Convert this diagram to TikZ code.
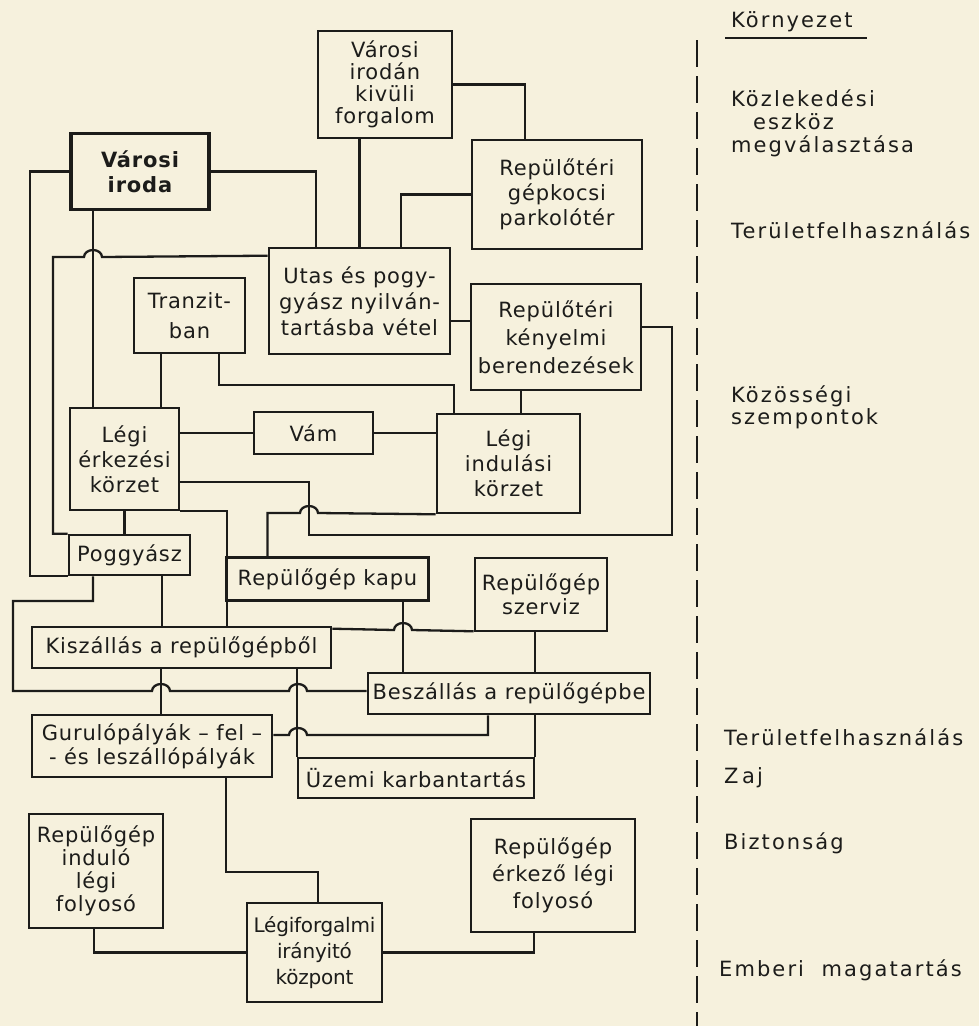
\documentclass[tikz,border=0pt]{standalone}
\usepackage{fontspec}
\setmainfont{DejaVu Sans}[LetterSpace=4]
\newfontfamily\envfont{DejaVu Sans}[LetterSpace=10]
\usepackage{xcolor}
\usetikzlibrary{positioning}
\definecolor{paper}{RGB}{246,241,221}
\definecolor{ink}{RGB}{28,28,26}

\begin{document}
\begin{tikzpicture}[x=1pt, y=-1pt, line width=2.3pt, draw=ink, text=ink,
  box/.style={draw, line width=2.6pt, rectangle, align=center, inner sep=1pt,
    font=\fontsize{21}{24}\selectfont},
  env/.style={anchor=west, inner sep=0pt, align=left,
    font=\envfont\fontsize{21}{23}\selectfont}]
  \fill[paper] (0,0) rectangle (979,1026);
  \useasboundingbox (0,0) rectangle (979,1026);

  % Boxes, top part
  \node[box, minimum width=134, minimum height=107, font=\fontsize{21}{22}\selectfont] (kivuli) at (385,84.5) {Városi\\irodán\\kivüli\\forgalom};
  \node[box, line width=3.4pt, minimum width=138, minimum height=76, font=\bfseries\fontsize{21}{25}\selectfont] (iroda) at (140,171.5) {Városi\\iroda};
  \node[box, minimum width=170, minimum height=109, font=\fontsize{21}{25}\selectfont] (parkolo) at (557,194.5) {Repülőtéri\\gépkocsi\\parkolótér};
  \node[box, minimum width=181, minimum height=106, font=\fontsize{21}{26}\selectfont] (utas) at (359.5,301) {Utas és pogy-\\gyász nyilván-\\tartásba vétel};
  \node[box, minimum width=111, minimum height=75, font=\fontsize{21}{30}\selectfont] (tranzit) at (189.5,315.5) {Tranzit-\\ban};
  \node[box, minimum width=170, minimum height=106, font=\fontsize{21}{28}\selectfont] (kenyelmi) at (556,337) {Repülőtéri\\kényelmi\\berendezések};

  % Boxes, middle part
  \node[box, minimum width=109, minimum height=102, font=\fontsize{21}{25}\selectfont] (erkezes) at (124.5,459) {Légi\\érkezési\\körzet};
  \node[box, minimum width=119, minimum height=42] (vam) at (313.5,433) {Vám};
  \node[box, minimum width=143, minimum height=99, font=\fontsize{21}{25}\selectfont] (indulas) at (508.5,463.5) {Légi\\indulási\\körzet};
  \node[box, minimum width=121, minimum height=40] (poggyasz) at (129.5,555) {Poggyász};
  \node[box, minimum width=202, minimum height=43] (kapu) at (327.5,579) {Repülőgép kapu};
  \node[box, minimum width=132, minimum height=73] (szerviz) at (541,594.5) {Repülőgép\\szerviz};
  \node[box, minimum width=299, minimum height=41] (kiszallas) at (181.5,647.5) {Kiszállás a repülőgépből};
  \node[box, minimum width=282, minimum height=41] (beszallas) at (509,693.5) {Beszállás a repülőgépbe};
  \node[box, minimum width=240, minimum height=62] (gurulo) at (152,746) {Gurulópályák – fel –\\- és leszállópályák};
  \node[box, minimum width=236, minimum height=40] (karbantartas) at (416,778) {Üzemi karbantartás};

  % Boxes, bottom part
  \node[box, minimum width=134, minimum height=114, font=\fontsize{21}{23}\selectfont] (indulofoly) at (96,871) {Repülőgép\\induló\\légi\\folyosó};
  \node[box, minimum width=164, minimum height=113, font=\fontsize{21}{27}\selectfont] (erkezofoly) at (553,875.5) {Repülőgép\\érkező légi\\folyosó};
  \node[box, minimum width=135, minimum height=99, font=\addfontfeature{LetterSpace=-1}\fontsize{20}{26}\selectfont] (iranyito) at (314.5,952.5) {Légiforgalmi\\irányitó\\központ};

  % Connections, top part
  \draw (kivuli.east) -| ([xshift=-32]parkolo.north);
  \draw (utas.north) -- (utas.north |- kivuli.south);
  \draw (iroda.east) -| ([xshift=-43.5]utas.north);
  \draw (parkolo.west) -| ([xshift=41.5]utas.north);
  \draw (iroda.west) -| ([xshift=-38]poggyasz.south west) -- (poggyasz.south west);
  \draw ([xshift=-47]iroda.south) -- ([xshift=-31.5]erkezes.north);
  \draw ([yshift=-9]utas.north west) -- (102,257) arc[start angle=0, end angle=-180, x radius=9, y radius=7] -- (53,257) |- (poggyasz.north west);
  \draw ([xshift=-28.5]tranzit.south) -- ([xshift=36.5]erkezes.north);
  \draw ([xshift=29.5]tranzit.south) |- (454,385) -- ([xshift=-54.5]indulas.north);
  \draw ([yshift=-20]utas.east) -- ([yshift=16]kenyelmi.west);
  \draw ([xshift=-35]kenyelmi.south) -- ([xshift=12.5]indulas.north);

  % Connections, middle part
  \draw ([yshift=10]kenyelmi.east) -| (672,535) -| (309,482) -- ([yshift=-23]erkezes.east);
  \draw (indulas.south west) -- (318,513) arc[start angle=0, end angle=-180, x radius=9, y radius=7] -- (267.5,513) -- ([xshift=-60]kapu.north);
  \draw (erkezes.east |- vam.west) -- (vam.west);
  \draw (vam.east) -- (vam.east -| indulas.west);
  \draw (erkezes.south) -- (erkezes.south |- poggyasz.north);
  \draw (erkezes.south east) -| ([xshift=45.5]kiszallas.north);
  \draw ([xshift=32.5]poggyasz.south) -- ([xshift=-19.5]kiszallas.north);
  \draw ([xshift=-36.5]poggyasz.south) |- (13,601) |- (152,691) arc[start angle=180, end angle=360, x radius=9, y radius=7] -- (289,691) arc[start angle=180, end angle=360, x radius=9, y radius=7] -- ([yshift=2.5]beszallas.west);
  \draw ([yshift=-3]kiszallas.north east) -- (394,630) arc[start angle=180, end angle=360, x radius=9, y radius=7] -- ([yshift=1]szerviz.south west);
  \draw ([xshift=75.5]kapu.south) -- ([xshift=-106]beszallas.north);
  \draw ([xshift=-6]szerviz.south) -- ([xshift=26]beszallas.north);
  \draw ([xshift=-20.5]kiszallas.south) -- ([xshift=9]gurulo.north);
  \draw (karbantartas.north west) -- (karbantartas.north west |- kiszallas.south);
  \draw ([yshift=11]gurulo.east) -- (289,735) arc[start angle=180, end angle=360, x radius=9, y radius=7] -| ([xshift=-21]beszallas.south);
  \draw (karbantartas.north east) -- (karbantartas.north east |- beszallas.south);

  % Connections, bottom part
  \draw ([xshift=74]gurulo.south) |- (318,872) -- ([xshift=3.5]iranyito.north);
  \draw ([xshift=-2]indulofoly.south) |- (iranyito.west);
  \draw ([xshift=-19]erkezofoly.south) |- (iranyito.east);

  % Environment column
  \draw[line width=2.3pt, dash pattern=on 27pt off 9pt] (697,40) -- (697,1026);
  \node[env] (kornyezet) at (730,22) {Környezet};
  \draw ([xshift=-5,yshift=-5]kornyezet.south west) -- ([xshift=13,yshift=-5]kornyezet.south east);
  \node[env] (kozlekedes) at (730,123) {Közlekedési\\\hspace*{22pt}eszköz\\megválasztása};
  \node[env] (terulet1) at (730,230) {Területfelhasználás};
  \node[env, font=\envfont\fontsize{21}{22}\selectfont] (kozosseg) at (730,407) {Közösségi\\szempontok};
  \node[env] (terulet2) at (723,737) {Területfelhasználás};
  \node[env] (zaj) at (723,778) {Z\,aj};
  \node[env] (biztonsag) at (723,843) {Biztonság};
  \node[env] (emberi) at (718,970) {Emberi\ \ magatartás};
\end{tikzpicture}
\end{document}
